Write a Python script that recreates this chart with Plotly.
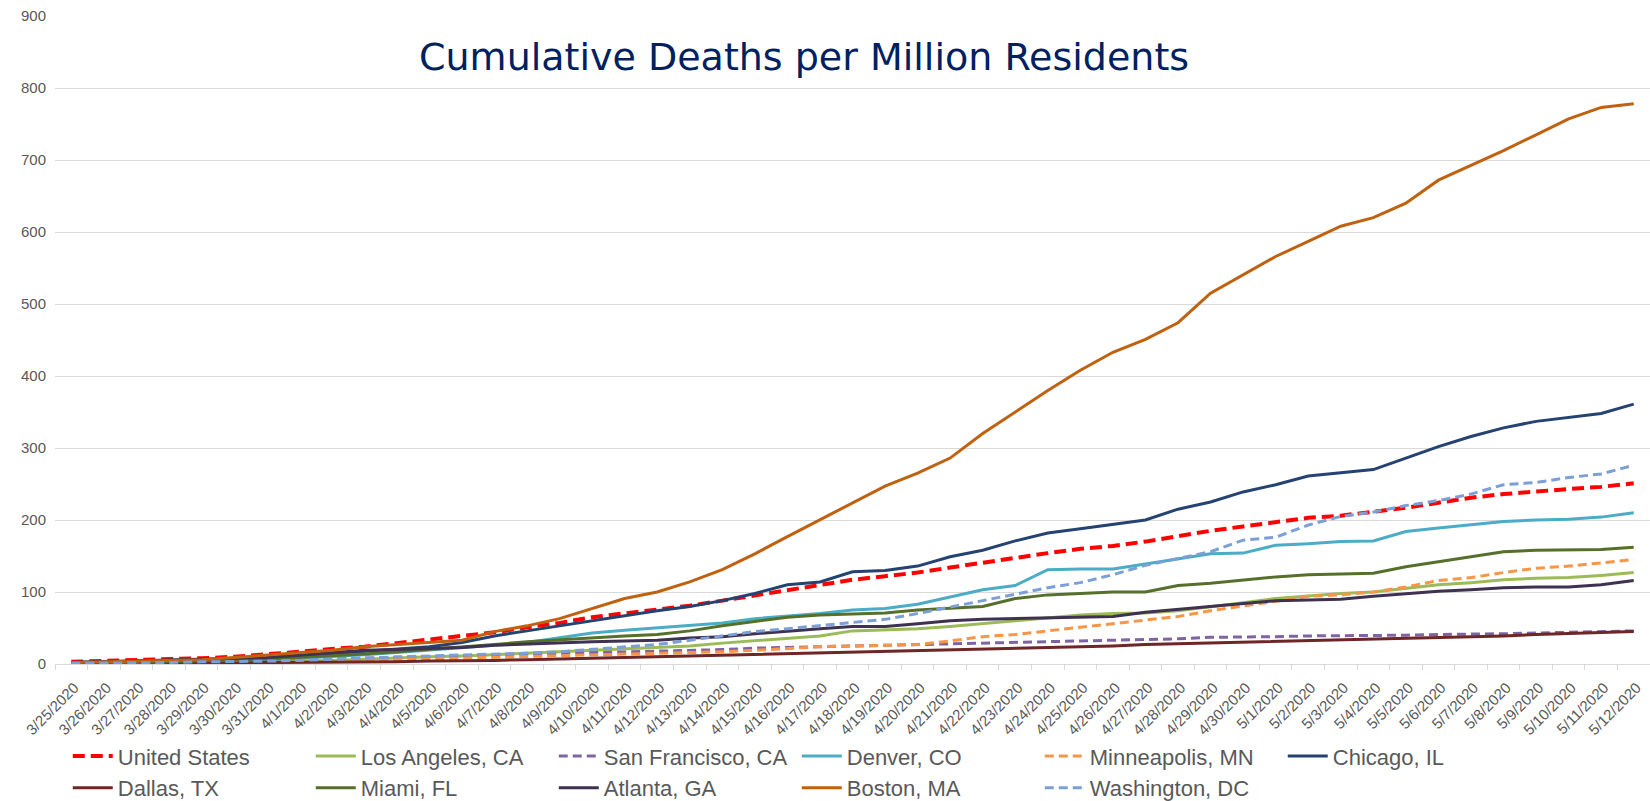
import plotly.graph_objects as go

dates = [
    "3/25/2020", "3/26/2020", "3/27/2020", "3/28/2020", "3/29/2020", "3/30/2020", "3/31/2020",
    "4/1/2020", "4/2/2020", "4/3/2020", "4/4/2020", "4/5/2020", "4/6/2020", "4/7/2020",
    "4/8/2020", "4/9/2020", "4/10/2020", "4/11/2020", "4/12/2020", "4/13/2020", "4/14/2020",
    "4/15/2020", "4/16/2020", "4/17/2020", "4/18/2020", "4/19/2020", "4/20/2020", "4/21/2020",
    "4/22/2020", "4/23/2020", "4/24/2020", "4/25/2020", "4/26/2020", "4/27/2020", "4/28/2020",
    "4/29/2020", "4/30/2020", "5/1/2020", "5/2/2020", "5/3/2020", "5/4/2020", "5/5/2020",
    "5/6/2020", "5/7/2020", "5/8/2020", "5/9/2020", "5/10/2020", "5/11/2020", "5/12/2020",
]

united_states = [3, 4, 5, 6, 8, 10, 13, 17, 21, 24, 29, 34, 39, 44, 51, 57, 65, 70, 75, 81, 88,
                 95, 103, 110, 117, 122, 127, 134, 141, 147, 154, 160, 164, 170, 178,
                 185, 191, 197, 203, 206, 211, 217, 224, 231, 236, 240, 243, 246, 251]
los_angeles = [1, 1, 1, 2, 2, 3, 3, 4, 5, 7, 9, 10, 11, 13, 14, 16, 18, 20, 22, 25, 29,
               32, 35, 39, 46, 47, 49, 52, 56, 60, 65, 68, 70, 71, 74,
               79, 85, 91, 95, 98, 100, 105, 110, 113, 117, 119, 120, 123, 127]
san_francisco = [2, 2, 3, 3, 4, 4, 5, 6, 7, 8, 9, 10, 11, 12, 13, 14, 15, 16, 17, 18,
                 20, 22, 23, 24, 25, 25, 26, 27, 29, 29, 31, 32, 33, 34, 35,
                 37, 37, 38, 39, 39, 39, 40, 41, 41, 42, 43, 44, 45, 46]
denver = [1, 1, 2, 2, 3, 4, 6, 8, 10, 13, 16, 19, 22, 26, 30, 36, 43, 47, 50, 53, 57,
          63, 66, 70, 75, 77, 83, 93, 103, 109, 131, 132, 132, 139, 146,
          153, 154, 165, 167, 170, 171, 184, 189, 194, 198, 200, 201, 204, 210]
minneapolis = [0.5, 1, 1, 1, 2, 2, 3, 3, 4, 5, 6, 7, 8, 9, 10, 11, 12, 13, 14, 15,
               17, 19, 22, 24, 25, 26, 27, 32, 38, 41, 46, 51, 55, 61, 66,
               74, 80, 87, 94, 96, 100, 107, 116, 120, 127, 133, 136, 140, 145]
chicago = [2, 3, 3, 4, 5, 6, 8, 11, 14, 18, 21, 24, 30, 39, 46, 53, 60, 68, 74, 80, 88,
           98, 110, 114, 128, 130, 136, 149, 158, 171, 182, 188, 194, 200, 215,
           225, 239, 249, 261, 266, 270, 286, 302, 316, 328, 337, 342, 348, 361]
dallas = [0.5, 0.5, 1, 1, 1, 1, 2, 2, 2, 3, 3, 4, 4, 5, 6, 7, 8, 9, 10, 11, 12,
          13, 14, 15, 16, 17, 18, 19, 20, 22, 23, 24, 25, 27, 28,
          29, 30, 31, 32, 33, 34, 35, 36, 37, 39, 41, 42, 43, 45]
miami = [1, 1, 2, 3, 4, 5, 7, 9, 11, 14, 17, 20, 23, 27, 31, 34, 37, 39, 41, 46, 53,
         59, 65, 68, 69, 71, 75, 78, 80, 91, 96, 98, 100, 100, 109,
         112, 117, 121, 124, 125, 126, 135, 142, 149, 156, 158, 158, 159, 162]
atlanta = [2, 3, 4, 5, 6, 7, 9, 12, 16, 19, 20, 21, 23, 26, 28, 30, 31, 32, 33, 36, 38,
           42, 46, 49, 52, 52, 56, 60, 62, 63, 65, 65, 66, 72, 76,
           81, 84, 88, 89, 90, 94, 98, 101, 103, 106, 107, 107, 110, 116]
boston = [2, 3, 4, 5, 6, 9, 12, 15, 19, 24, 27, 30, 33, 45, 53, 63, 77, 91, 100, 114, 131,
          153, 177, 200, 224, 247, 265, 286, 320, 350, 380, 408, 433, 451, 474,
          515, 541, 566, 587, 608, 620, 640, 672, 692, 713, 735, 757, 773, 778]
washington = [1, 1, 2, 2, 3, 3, 4, 5, 6, 8, 10, 11, 12, 13, 15, 17, 20, 23, 27, 33, 39,
              45, 49, 53, 57, 62, 70, 79, 88, 98, 106, 113, 124, 137, 147,
              156, 172, 176, 193, 205, 211, 220, 227, 236, 249, 252, 259, 264, 276]

# (name, values, colour, width, dash)
series = [
    ("United States", united_states, "#FF0000", 4, "12px,6px"),
    ("Los Angeles, CA", los_angeles, "#9BBB59", 3, "solid"),
    ("San Francisco, CA", san_francisco, "#8064A2", 3, "9px,5px"),
    ("Denver, CO", denver, "#4BACC6", 3, "solid"),
    ("Minneapolis, MN", minneapolis, "#F79646", 3, "9px,5px"),
    ("Chicago, IL", chicago, "#254372", 3, "solid"),
    ("Dallas, TX", dallas, "#6E2626", 3, "solid"),
    ("Miami, FL", miami, "#56702C", 3, "solid"),
    ("Atlanta, GA", atlanta, "#3F3151", 3, "solid"),
    ("Boston, MA", boston, "#C0610F", 3, "solid"),
    ("Washington, DC", washington, "#7B9FD6", 3, "9px,5px"),
]

fig = go.Figure()
for name, vals, color, width, dash in series:
    fig.add_trace(go.Scatter(
        x=dates, y=vals, name=name, mode="lines",
        line=dict(color=color, width=width, dash=dash),
    ))

fig.update_layout(
    width=1650, height=801,
    margin=dict(l=55, r=0, t=16, b=137, autoexpand=False),
    paper_bgcolor="white", plot_bgcolor="white",
    font=dict(family="Liberation Sans, Arial, sans-serif", color="#595959"),
    showlegend=True,
    legend=dict(
        orientation="h", x=0.008, xanchor="left",
        yref="container", y=0.082, yanchor="top",
        font=dict(size=22, color="#595959"),
        entrywidth=188, entrywidthmode="pixels",
        itemwidth=40, tracegroupgap=0,
    ),
    annotations=[dict(
        text="Cumulative Deaths per Million Residents",
        xref="paper", yref="paper", x=0.4695, y=0.936,
        xanchor="center", yanchor="middle", showarrow=False,
        font=dict(family="DejaVu Sans, sans-serif", size=38, color="#002060"),
    )],
)

fig.update_xaxes(
    type="category", range=[-0.5, len(dates) - 0.5], automargin=False,
    tickangle=-45, tickfont=dict(size=15, color="#595959"),
    ticklabelstandoff=8, ticklabelshift=3,
    showgrid=False, showline=True, linecolor="#D9D9D9", linewidth=1,
    ticks="outside", tickson="boundaries", ticklen=5, tickcolor="#D9D9D9",
)
fig.update_yaxes(
    range=[0, 900], dtick=100, tick0=0, automargin=False,
    tickfont=dict(size=15, color="#595959"),
    showgrid=True, gridcolor="#D9D9D9", gridwidth=1,
    zeroline=False, showline=False, ticks="", ticklabelstandoff=8,
)

fig.write_html("out.html")
